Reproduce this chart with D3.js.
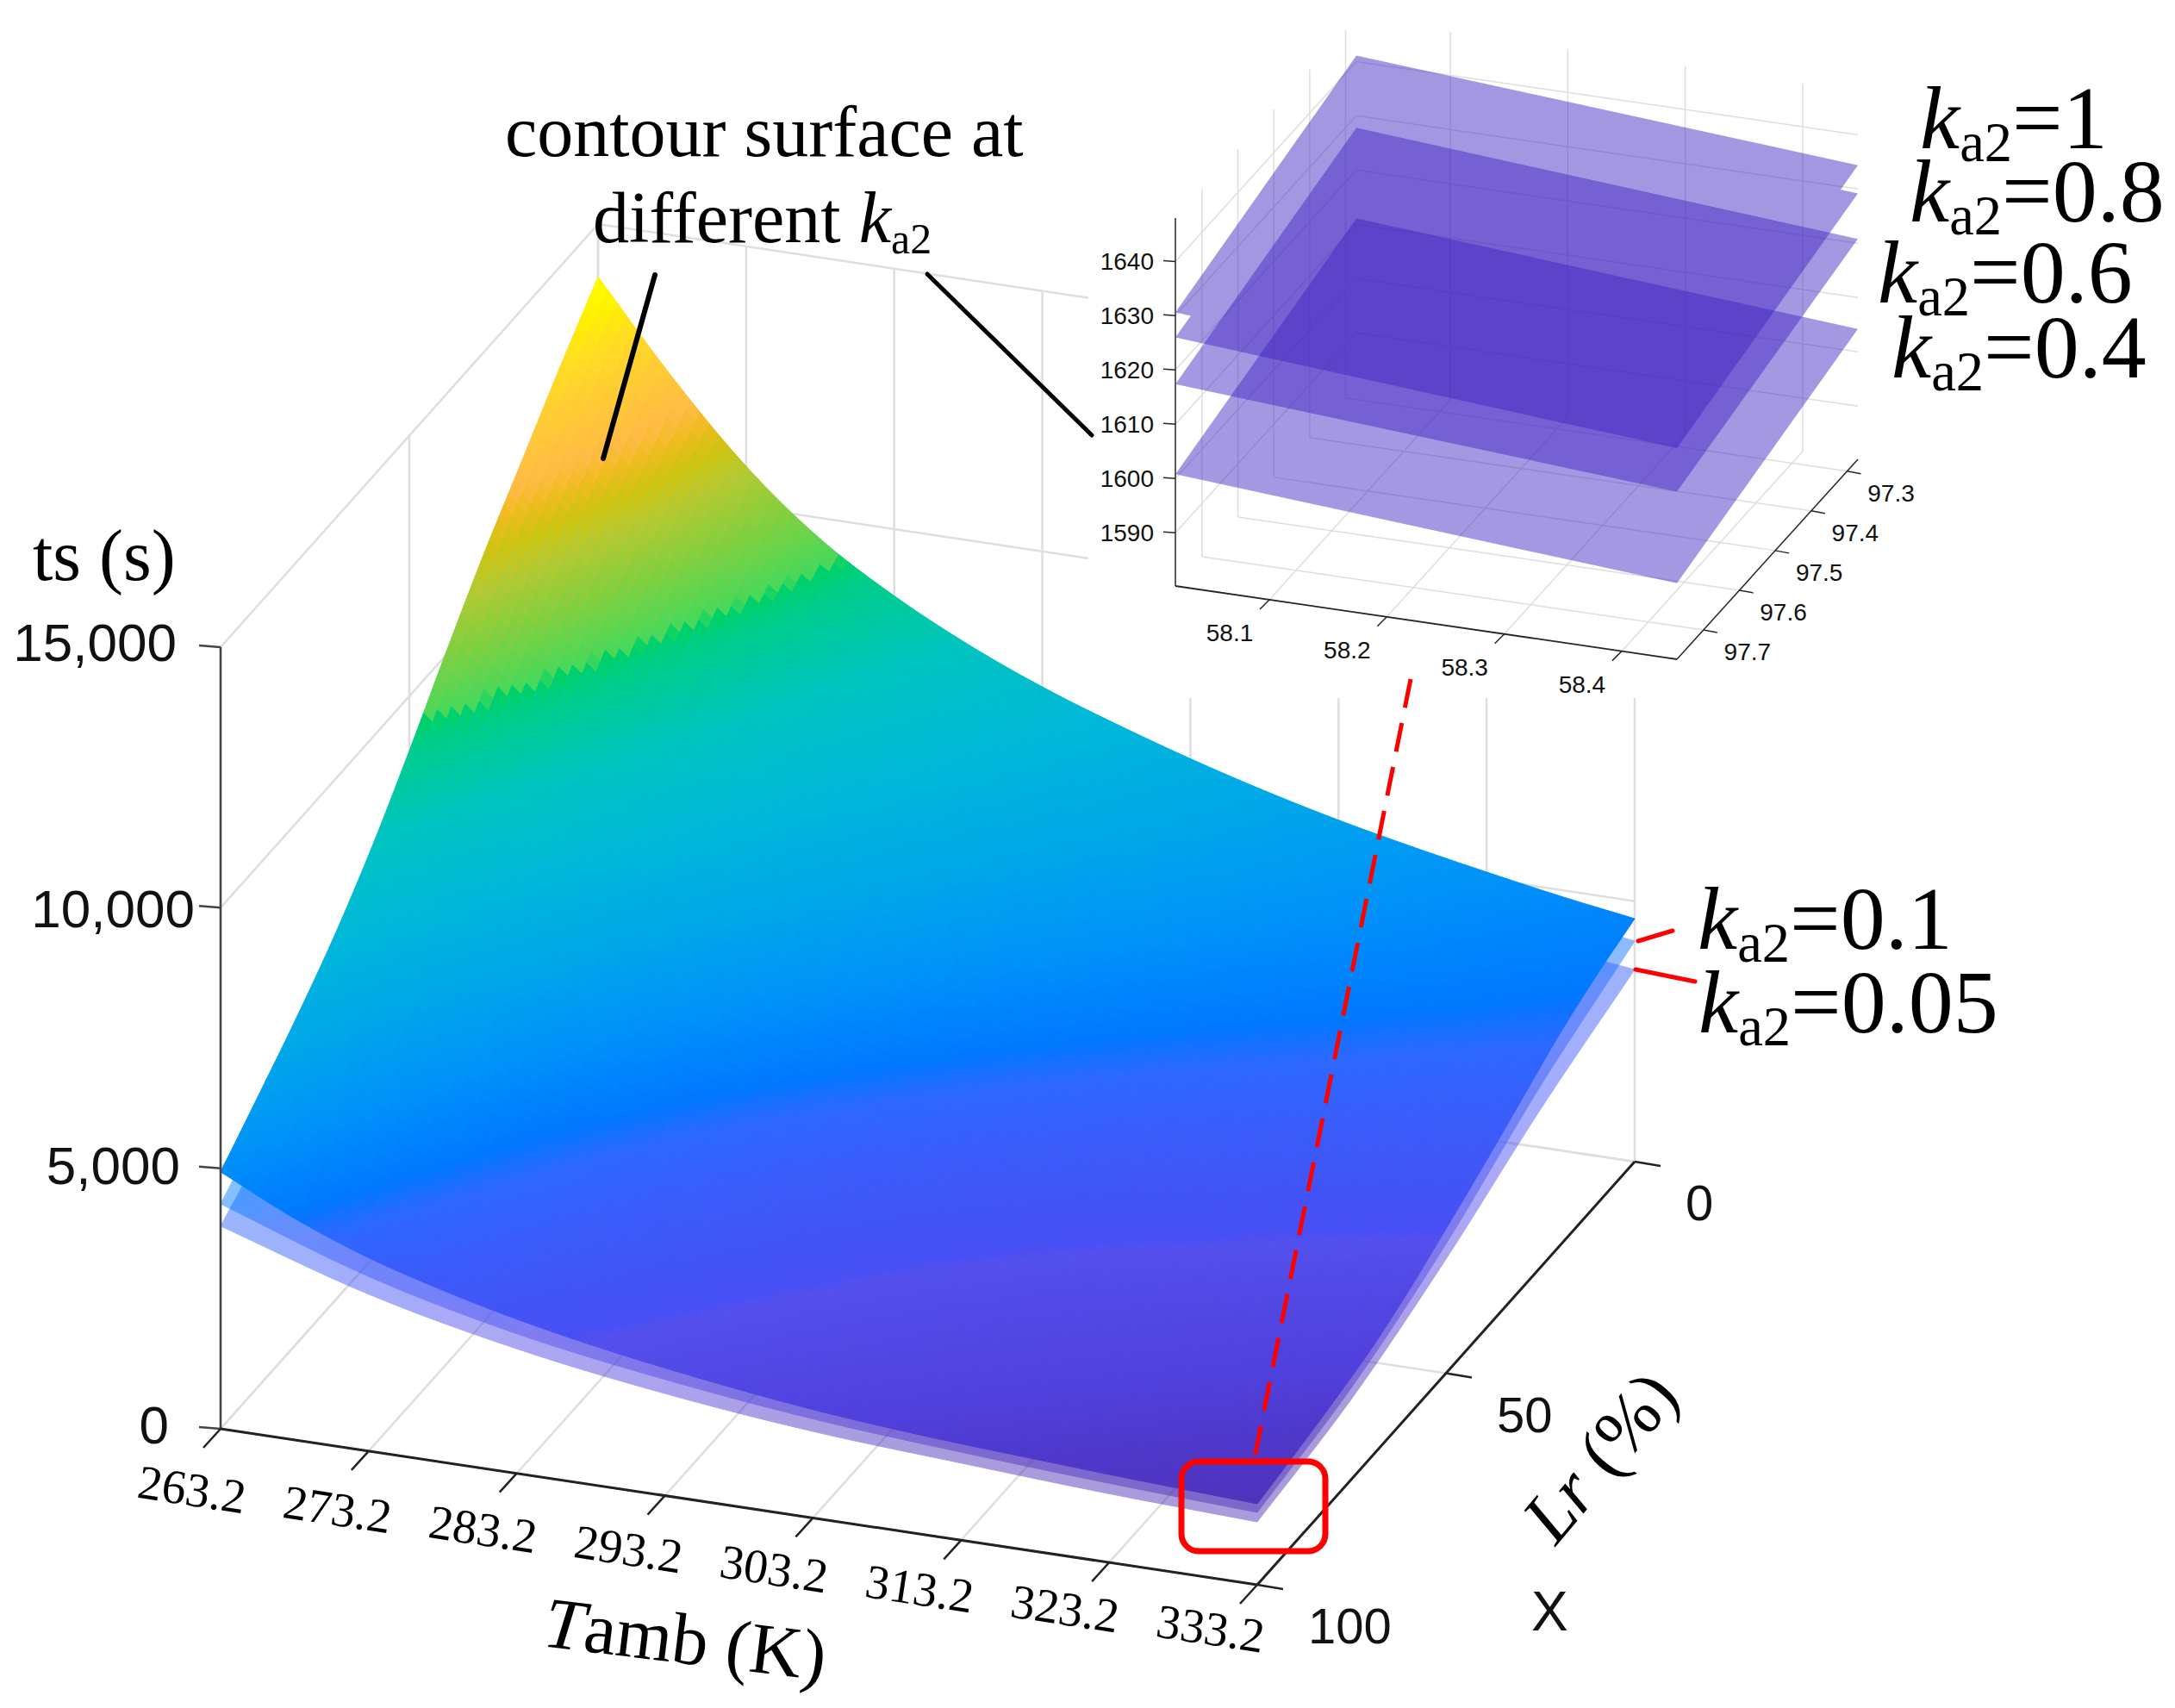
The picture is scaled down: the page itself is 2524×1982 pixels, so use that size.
<!DOCTYPE html>
<html>
<head>
<meta charset="utf-8">
<script src="https://d3js.org/d3.v7.min.js"></script>
<style>
    html, body { margin: 0; background-color: white; }
    svg { display: block; }
    .serif { font-family: "Liberation Serif", serif; fill: black; }
    .sans { font-family: "Liberation Sans", sans-serif; fill: #111; }
</style>
</head>
<body></body>
<script>
    // DATA - main plot
    const tambTicks = [263.2, 273.2, 283.2, 293.2, 303.2, 313.2, 323.2, 333.2];
    const lrTicks = [0, 50, 100];
    const tsTicks = [0, 5000, 10000, 15000];

    // fine grid of the top surface
    const surfTamb = [263.2, 268.2, 273.2, 278.2, 283.2, 288.2, 293.2, 298.2, 303.2, 308.2, 313.2, 318.2, 323.2, 328.2, 333.2];
    const surfLr = [0, 10, 20, 30, 40, 50, 60, 70, 80, 90, 100];
    const tsTop = [
        [13990, 12280, 10780, 9600, 8720, 8000, 7400, 6900, 6450, 6050, 5700, 5400, 5130, 4880, 4663],
        [13080, 11550, 10175, 9034, 8165, 7505, 6948, 6470, 6056, 5680, 5351, 5074, 4827, 4594, 4400],
        [12110, 10670, 9385, 8338, 7520, 6907, 6378, 5933, 5548, 5212, 4912, 4672, 4443, 4240, 4060],
        [11150, 9775, 8589, 7614, 6853, 6270, 5777, 5362, 4992, 4677, 4408, 4195, 3981, 3790, 3620],
        [10080, 8797, 7705, 6827, 6132, 5590, 5140, 4752, 4414, 4127, 3891, 3695, 3500, 3334, 3180],
        [8950, 7785, 6810, 6024, 5404, 4920, 4508, 4152, 3850, 3602, 3390, 3214, 3047, 2899, 2770],
        [7900, 6845, 5970, 5272, 4718, 4287, 3914, 3597, 3328, 3107, 2917, 2769, 2628, 2496, 2380],
        [7000, 6055, 5275, 4655, 4175, 3780, 3444, 3152, 2911, 2712, 2549, 2414, 2288, 2176, 2070],
        [6250, 5389, 4696, 4150, 3714, 3362, 3066, 2810, 2593, 2418, 2282, 2170, 2059, 1961, 1870],
        [5580, 4807, 4194, 3713, 3322, 3010, 2743, 2517, 2324, 2176, 2050, 1958, 1861, 1780, 1700],
        [4930, 4250, 3710, 3300, 2960, 2680, 2450, 2250, 2080, 1950, 1850, 1770, 1690, 1620, 1554]
    ];

    // the two lower surfaces only show along the front and right edges
    const lowLr = [0, 25, 50, 75, 100];
    const tsK010 = [
        [12200, 9780, 7870, 6700, 5870, 5190, 4640, 4233],
        [10500, 8280, 6650, 5610, 4880, 4340, 3890, 3480],
        [8140, 6335, 5030, 4170, 3560, 3120, 2770, 2480],
        [5820, 4480, 3530, 2920, 2500, 2200, 1960, 1760],
        [4316, 3350, 2680, 2230, 1900, 1690, 1520, 1389]
    ];
    const tsK005 = [
        [11000, 8800, 7050, 5900, 5160, 4450, 4000, 3688],
        [9480, 7450, 5950, 4960, 4290, 3720, 3350, 3030],
        [7350, 5700, 4500, 3690, 3130, 2670, 2390, 2190],
        [5250, 4030, 3160, 2580, 2200, 1890, 1690, 1540],
        [3890, 3010, 2390, 1960, 1660, 1480, 1320, 1207]
    ];

    // colormap as seen on the surface
    const colorTs = [1500, 2000, 2700, 2780, 3500, 4000, 4300, 5000, 6000, 7000, 8000, 9000, 9250, 9300,
                     10000, 10750, 11100, 11500, 11790, 12630, 13130, 13500, 13970];
    const colorHex = ["#4E30B8", "#5040DC", "#5350EE", "#4650F5", "#3A5CFA", "#2C68FF", "#0078FF", "#0090FA",
                      "#00A8E8", "#00B8D8", "#00C4C0", "#00CE88", "#00D068", "#48D85A",
                      "#80D040", "#B8C830", "#CCC410", "#F0BC20", "#FFBB45", "#FFD030", "#FFE020", "#FFF000", "#FFFF00"];

    // DATA - inset
    const insetX = [58.1, 58.2, 58.3, 58.4];
    const insetY = [97.3, 97.4, 97.5, 97.6, 97.7];
    const insetZ = [1590, 1600, 1610, 1620, 1630, 1640];
    // corners of each plane: [x lo/y far, x hi/y far, x lo/y near, x hi/y near]
    const planeK1 = [1641.1, 1634.4, 1630.6, 1623.9];
    const planeK08 = [1636.0, 1629.2, 1626.0, 1619.1];
    const planeK06 = [1627.8, 1620.8, 1617.4, 1611.1];
    const planeK04 = [1611.1, 1604.2, 1600.8, 1594.2];

    // DESIGN CONSTANTS
    const width = 2524;
    const height = 1982;
    const gridColor = "#DEDEDE";
    const axisColor = "#222";

    const svg = d3.select("body").append("svg")
        .attr("width", width)
        .attr("height", height);

    const color = d3.scaleLinear().domain(colorTs).range(colorHex).clamp(true);

    // Oblique projection: each data axis gets a scale to 0..1, then a screen vector
    function makeProjector(origin, xVec, yVec, xScale, yScale, zScale) {
        return function (x, y, z) {
            let a = xScale(x), b = yScale(y);
            return [origin[0] + a * xVec[0] + b * yVec[0],
                    origin[1] + a * xVec[1] + b * yVec[1] + zScale(z)];
        };
    }

    const tambScale = d3.scaleLinear().domain([263.2, 333.2]).range([0, 1]);
    const lrScale = d3.scaleLinear().domain([100, 0]).range([0, 1]);
    const tsScale = d3.scaleLinear().domain([0, 15000]).range([0, -907]);
    const project = makeProjector([256, 1658], [1203, 181], [438, -491], tambScale, lrScale, tsScale);

    const pathOf = d3.line();

    function seg(g, a, b, stroke, w) {
        g.append("line")
            .attr("x1", a[0]).attr("y1", a[1])
            .attr("x2", b[0]).attr("y2", b[1])
            .attr("stroke", stroke)
            .attr("stroke-width", w);
    }

    // Catmull-Rom through the table values, only used to draw smooth cells between them
    function spline(p0, p1, p2, p3, t) {
        return 0.5 * (2 * p1 + (p2 - p0) * t + (2 * p0 - 5 * p1 + 4 * p2 - p3) * t * t
            + (3 * p1 - p0 - 3 * p2 + p3) * t * t * t);
    }

    function surfaceCells(xs, ys, table, sub) {
        const cells = [];
        const rows = table.length, cols = table[0].length;
        // past the ends of a row or column carry on straight, so the corners stay sharp
        const rowAt = (j, i, s) => {
            const r = table[j];
            const before = i > 0 ? r[i - 1] : 2 * r[0] - r[1];
            const after = i + 2 < cols ? r[i + 2] : 2 * r[cols - 1] - r[cols - 2];
            return spline(before, r[i], r[i + 1], after, s);
        };
        const at = (i, j, s, t) => {
            const a = rowAt(j, i, s), b = rowAt(j + 1, i, s);
            const before = j > 0 ? rowAt(j - 1, i, s) : 2 * a - b;
            const after = j + 2 < rows ? rowAt(j + 2, i, s) : 2 * b - a;
            return spline(before, a, b, after, t);
        };
        for (let j = 0; j < ys.length - 1; j++) {
            for (let i = 0; i < xs.length - 1; i++) {
                const xi = d3.interpolateNumber(xs[i], xs[i + 1]);
                const yi = d3.interpolateNumber(ys[j], ys[j + 1]);
                for (let q = 0; q < sub; q++) {
                    for (let p = 0; p < sub; p++) {
                        const s0 = p / sub, s1 = (p + 1) / sub, t0 = q / sub, t1 = (q + 1) / sub;
                        cells.push({
                            pts: [
                                project(xi(s0), yi(t0), at(i, j, s0, t0)),
                                project(xi(s1), yi(t0), at(i, j, s1, t0)),
                                project(xi(s1), yi(t1), at(i, j, s1, t1)),
                                project(xi(s0), yi(t1), at(i, j, s0, t1))
                            ],
                            v: at(i, j, (s0 + s1) / 2, (t0 + t1) / 2)
                        });
                    }
                }
            }
        }
        return cells;
    }

    function drawSurface(xs, ys, table, sub, opacity) {
        svg.append("g")
            .attr("opacity", opacity)
            .selectAll("path")
            .data(surfaceCells(xs, ys, table, sub))
            .join("path")
            .attr("d", d => pathOf(d.pts) + "Z")
            .attr("fill", d => color(d.v))
            .attr("stroke", d => color(d.v))
            .attr("stroke-width", 1);
    }

    // (1) Main box grid
    const grid = svg.append("g");
    for (const t of tambTicks) {
        seg(grid, project(t, 100, 0), project(t, 0, 0), gridColor, 2.5);
        seg(grid, project(t, 0, 0), project(t, 0, 15000), gridColor, 2.5);
    }
    for (const l of lrTicks) {
        seg(grid, project(263.2, l, 0), project(333.2, l, 0), gridColor, 2.5);
        seg(grid, project(263.2, l, 0), project(263.2, l, 15000), gridColor, 2.5);
    }
    for (const z of tsTicks) {
        seg(grid, project(263.2, 100, z), project(263.2, 0, z), gridColor, 2.5);
        seg(grid, project(263.2, 0, z), project(333.2, 0, z), gridColor, 2.5);
    }

    // (2) Surfaces, lowest first
    drawSurface(tambTicks, lowLr, tsK005, 8, 0.48);
    drawSurface(tambTicks, lowLr, tsK010, 8, 0.48);
    drawSurface(surfTamb, surfLr, tsTop, 8, 1);

    // (3) Main axes
    const axes = svg.append("g");
    seg(axes, project(263.2, 100, 0), project(263.2, 100, 15000), "#444", 2.5);
    seg(axes, project(263.2, 100, 0), project(333.2, 100, 0), axisColor, 3);
    seg(axes, project(333.2, 100, 0), project(333.2, 0, 0), axisColor, 3);

    for (const z of tsTicks) {
        const p = project(263.2, 100, z);
        seg(axes, p, [p[0] - 25, p[1] - 2], "#444", 2.5);
    }
    tambTicks.forEach((t, k) => {
        const p = project(t, 100, 0);
        seg(axes, p, [p[0] - 20, p[1] + 22], axisColor, 2.5);
        axes.append("text")
            .attr("class", "serif")
            .attr("font-size", 56)
            .attr("text-anchor", "middle")
            .attr("transform", `translate(${p[0] - 36 - 3 * k} ${p[1] + 89 - 2.8 * k}) rotate(8.6)`)
            .text(t.toFixed(1));
    });
    for (const l of lrTicks) {
        const p = project(333.2, l, 0);
        seg(axes, p, [p[0] + 30, p[1] + 5], axisColor, 2.5);
        axes.append("text")
            .attr("class", "sans")
            .attr("font-size", 58)
            .attr("x", p[0] + 59)
            .attr("y", p[1] + 68)
            .text(l);
    }

    const tsLabels = ["0", "5,000", "10,000", "15,000"];
    const tsLabelX = [196, 209, 226, 205];
    const tsLabelY = [1675, 1374, 1076, 767];
    tsLabels.forEach((s, i) => {
        axes.append("text")
            .attr("class", "sans")
            .attr("font-size", 62)
            .attr("text-anchor", "end")
            .attr("x", tsLabelX[i])
            .attr("y", tsLabelY[i])
            .text(s);
    });

    // (4) White backing of the inset covers the main grid
    svg.append("rect")
        .attr("x", 1263).attr("y", 0)
        .attr("width", width - 1263).attr("height", 810)
        .attr("fill", "white");

    // (5) Inset
    const inX = d3.scaleLinear().domain([58.02, 58.447]).range([0, 1]);
    const inY = d3.scaleLinear().domain([97.774, 97.27]).range([0, 1]);
    const inZ = d3.scaleLinear().domain([1580.2, 1648]).range([0, -427]);
    const inProject = makeProjector([1364, 680], [582, 85], [210, -232], inX, inY, inZ);
    const [xLo, xHi] = inX.domain();
    const [yNear, yFar] = inY.domain();
    const zLo = inZ.domain()[0], zHi = inZ.domain()[1];

    const inset = svg.append("g");
    for (const x of insetX) {
        seg(inset, inProject(x, yNear, zLo), inProject(x, yFar, zLo), gridColor, 1.5);
        seg(inset, inProject(x, yFar, zLo), inProject(x, yFar, zHi), gridColor, 1.5);
    }
    for (const y of insetY) {
        seg(inset, inProject(xLo, y, zLo), inProject(xHi, y, zLo), gridColor, 1.5);
        seg(inset, inProject(xLo, y, zLo), inProject(xLo, y, zHi), gridColor, 1.5);
    }
    for (const z of insetZ) {
        seg(inset, inProject(xLo, yNear, z), inProject(xLo, yFar, z), gridColor, 1.5);
        seg(inset, inProject(xLo, yFar, z), inProject(xHi, yFar, z), gridColor, 1.5);
    }

    function planePath(c) {
        return pathOf([
            inProject(xLo, yFar, c[0]), inProject(xHi, yFar, c[1]),
            inProject(xHi, yNear, c[3]), inProject(xLo, yNear, c[2])
        ]) + "Z";
    }
    const planeColor = "#4024C1";
    for (const group of [[planeK04], [planeK06], [planeK08, planeK1]]) {
        inset.append("g")
            .attr("opacity", 0.47)
            .selectAll("path")
            .data(group)
            .join("path")
            .attr("d", planePath)
            .attr("fill", planeColor);
    }

    seg(inset, inProject(xLo, yNear, zLo), inProject(xLo, yNear, zHi), "#262626", 1.5);
    seg(inset, inProject(xLo, yNear, zLo), inProject(xHi, yNear, zLo), "#262626", 1.8);
    seg(inset, inProject(xHi, yNear, zLo), inProject(xHi, yFar, zLo), "#262626", 1.5);

    for (const z of insetZ) {
        const p = inProject(xLo, yNear, z);
        seg(inset, p, [p[0] - 14, p[1] - 1], "#262626", 1.5);
        inset.append("text").attr("class", "sans")
            .attr("font-size", 28)
            .attr("text-anchor", "end")
            .attr("x", p[0] - 25).attr("y", p[1] + 10)
            .text(z);
    }
    for (const x of insetX) {
        const p = inProject(x, yNear, zLo);
        seg(inset, p, [p[0] - 11, p[1] + 11], "#262626", 1.5);
        inset.append("text").attr("class", "sans")
            .attr("font-size", 28).attr("text-anchor", "middle")
            .attr("x", p[0] - 46).attr("y", p[1] + 48)
            .text(x.toFixed(1));
    }
    for (const y of insetY) {
        const p = inProject(xHi, y, zLo);
        seg(inset, p, [p[0] + 16, p[1] + 3], "#262626", 1.5);
        inset.append("text").attr("class", "sans")
            .attr("font-size", 28).attr("text-anchor", "middle")
            .attr("x", p[0] + 51).attr("y", p[1] + 35)
            .text(y.toFixed(1));
    }

    // (6) Text labels
    function kLabel(x, y, size, value) {
        const t = svg.append("text").attr("class", "serif")
            .attr("font-size", size).attr("x", x).attr("y", y);
        t.append("tspan").attr("font-style", "italic").text("k");
        t.append("tspan").attr("font-size", size * 0.62).attr("dy", size * 0.14).text("a2");
        t.append("tspan").attr("dy", -size * 0.14).text(value);
    }
    const kTexts = ["=1", "=0.8", "=0.6", "=0.4", "=0.1", "=0.05"];
    const kX = [2228, 2216, 2179, 2195, 1970, 1971];
    const kY = [172, 257, 351, 438, 1101, 1198];
    kTexts.forEach((s, i) => kLabel(kX[i], kY[i], 104, s));

    svg.append("text").attr("class", "serif")
        .attr("font-size", 84).attr("x", 586).attr("y", 181)
        .text("contour surface at");
    const diff = svg.append("text").attr("class", "serif")
        .attr("font-size", 84).attr("x", 688).attr("y", 281);
    diff.append("tspan").text("different ");
    diff.append("tspan").attr("font-style", "italic").text("k");
    diff.append("tspan").attr("font-size", 50).attr("dy", 13).text("a2");

    svg.append("text").attr("class", "serif")
        .attr("font-size", 84).attr("x", 38).attr("y", 673)
        .text("ts (s)");

    const tambTitle = svg.append("text").attr("class", "serif")
        .attr("font-size", 84).attr("text-anchor", "middle")
        .attr("transform", "translate(792 1930) rotate(7)");
    tambTitle.append("tspan").attr("font-style", "italic").text("T");
    tambTitle.append("tspan").text("amb (K)");

    const lrTitle = svg.append("text").attr("class", "serif")
        .attr("font-size", 84).attr("text-anchor", "middle")
        .attr("transform", "translate(1878 1708) rotate(-50)");
    lrTitle.append("tspan").attr("font-style", "italic").text("Lr");
    lrTitle.append("tspan").text(" (%)");

    svg.append("text").attr("class", "sans")
        .attr("font-size", 64).attr("x", 1777).attr("y", 1892)
        .text("X");

    // (7) Annotation lines
    const notes = svg.append("g").attr("stroke-linecap", "round");
    seg(notes, [760, 319], [700, 532], "black", 6);
    seg(notes, [1076, 318], [1267, 505], "black", 5);
    seg(notes, [1901, 1092], [1941, 1080], "#FF0000", 5);
    seg(notes, [1898, 1125], [1967, 1139], "#FF0000", 5);

    notes.append("line")
        .attr("x1", 1637).attr("y1", 788)
        .attr("x2", 1455).attr("y2", 1696)
        .attr("stroke", "#FF0000")
        .attr("stroke-width", 5)
        .attr("stroke-linecap", "butt")
        .attr("stroke-dasharray", "34 18");

    svg.append("rect")
        .attr("x", 1371).attr("y", 1696)
        .attr("width", 167).attr("height", 104)
        .attr("rx", 20)
        .attr("fill", "none")
        .attr("stroke", "#FF0000")
        .attr("stroke-width", 7);
</script>
</html>
